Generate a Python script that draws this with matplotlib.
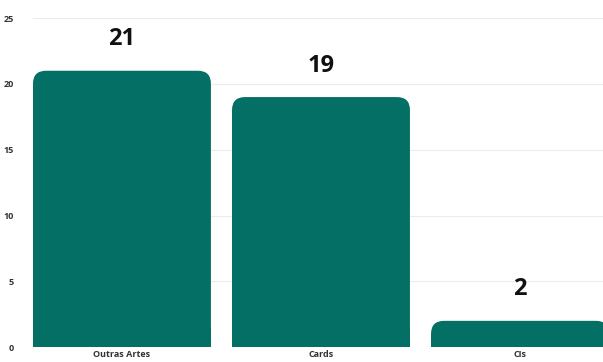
import matplotlib.pyplot as plt
from matplotlib.patches import FancyBboxPatch, Rectangle

categories = ["Outras Artes", "Cards", "CIs"]
counts = [21, 19, 2]
yticks = [0, 5, 10, 15, 20, 25]

BAR_COLOR = "#036f65"

fig = plt.figure(figsize=(6.03, 3.62), dpi=100)
ax = fig.add_axes([0.0547, 0.041, 0.9453, 0.909])

xs = list(range(len(categories)))
width = 0.894
ax.set_xlim(-0.447, 2.417)
ax.set_ylim(0, 25)

# rounded top corners: radius in px converted to data units
fig.canvas.draw()
bbox = ax.get_window_extent()
px_x = (2.417 + 0.447) / bbox.width
px_y = 25 / bbox.height
r_px = 13
rx = r_px * px_x
ry = r_px * px_y

for x, v in zip(xs, counts):
    left = x - width / 2
    top = FancyBboxPatch((left, 0), width, v,
                         boxstyle=f"round,pad=0,rounding_size={rx}",
                         mutation_aspect=ry / rx,
                         facecolor=BAR_COLOR, edgecolor="none", zorder=3)
    ax.add_patch(top)
    ax.add_patch(Rectangle((left, 0), width, min(v / 2, ry * 1.5),
                           facecolor=BAR_COLOR, edgecolor="none", zorder=3))
    ax.annotate(str(v), (x, v), xytext=(0, 14), textcoords="offset points",
                ha="center", va="bottom", fontsize=17, fontweight="bold",
                family="Open Sans", color="#111111")

ax.set_yticks(yticks)
ax.set_xticks(xs)
ax.set_xticklabels(categories)
ax.tick_params(length=0, labelsize=6.5, colors="#333333", pad=2)
ax.tick_params(axis="y", pad=14)
for lbl in ax.get_xticklabels() + ax.get_yticklabels():
    lbl.set_family("Open Sans")
    lbl.set_fontweight("bold")
ax.yaxis.grid(True, color="#ececec", linewidth=0.8, zorder=0)
ax.set_axisbelow(True)
for s in ax.spines.values():
    s.set_visible(False)

fig.savefig("out.png", dpi=100)
